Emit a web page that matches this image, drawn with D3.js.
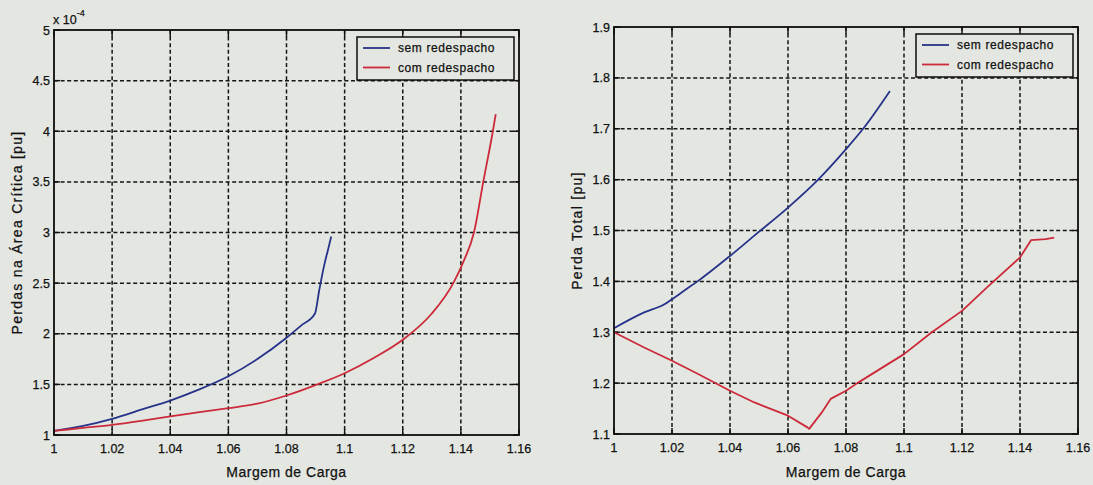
<!DOCTYPE html>
<html>
<head>
<meta charset="utf-8">
<script src="https://cdn.jsdelivr.net/npm/d3@7"></script>
<style>
  html, body { margin: 0; padding: 0; background: #e4e7e1; }
  svg { display: block; }
  text { font-family: "Liberation Sans", Arial, Helvetica, sans-serif; fill: #111; stroke: #111; stroke-width: 0.25; }
</style>
</head>
<body>
<svg id="chart" width="1093" height="485"></svg>
<script>
// Shared x axis: load margin
const xTicks = [1, 1.02, 1.04, 1.06, 1.08, 1.1, 1.12, 1.14, 1.16];
const xTickLabels = ["1", "1.02", "1.04", "1.06", "1.08", "1.1", "1.12", "1.14", "1.16"];

// Left panel: losses in the critical area (x 10^-4 pu)
const areaTicks = [1, 1.5, 2, 2.5, 3, 3.5, 4, 4.5, 5];
const areaTickLabels = ["1", "1.5", "2", "2.5", "3", "3.5", "4", "4.5", "5"];

const areaSemX = [1.000, 1.010, 1.020, 1.030, 1.040, 1.050, 1.060, 1.070, 1.080, 1.085, 1.0898, 1.0912, 1.0930, 1.0942, 1.0954];
const areaSemY = [1.04, 1.09, 1.16, 1.25, 1.34, 1.45, 1.58, 1.75, 1.96, 2.08, 2.20, 2.42, 2.68, 2.82, 2.96];

const areaComX = [1.000, 1.010, 1.020, 1.030, 1.040, 1.050, 1.060, 1.070, 1.080, 1.0906, 1.100, 1.110, 1.120, 1.130, 1.1374, 1.1410, 1.1445, 1.1477, 1.1510, 1.1520];
const areaComY = [1.04, 1.07, 1.10, 1.14, 1.185, 1.225, 1.265, 1.31, 1.39, 1.50, 1.61, 1.76, 1.94, 2.20, 2.50, 2.72, 3.00, 3.50, 4.00, 4.17];

// Right panel: total losses (pu)
const totalTicks = [1.1, 1.2, 1.3, 1.4, 1.5, 1.6, 1.7, 1.8, 1.9];
const totalTickLabels = ["1.1", "1.2", "1.3", "1.4", "1.5", "1.6", "1.7", "1.8", "1.9"];

const totalSemX = [1.000, 1.0104, 1.0174, 1.020, 1.025, 1.0288, 1.040, 1.0484, 1.060, 1.0704, 1.080, 1.0863, 1.0951];
const totalSemY = [1.308, 1.339, 1.355, 1.365, 1.385, 1.400, 1.450, 1.490, 1.545, 1.600, 1.660, 1.703, 1.774];

const totalComX = [1.000, 1.0104, 1.020, 1.029, 1.040, 1.0484, 1.060, 1.0667, 1.0673, 1.0716, 1.0747, 1.080, 1.0839, 1.100, 1.1096, 1.120, 1.129, 1.140, 1.1438, 1.1488, 1.1518];
const totalComY = [1.300, 1.270, 1.244, 1.218, 1.185, 1.162, 1.136, 1.113, 1.110, 1.142, 1.169, 1.185, 1.200, 1.257, 1.300, 1.342, 1.390, 1.447, 1.481, 1.483, 1.486];

const seriesNames = ["sem redespacho", "com redespacho"];
const seriesColors = ["#27338a", "#cc2a3a"];

const svg = d3.select("#chart");
const bg = "#e4e7e1";

function drawPanel(cfg) {
  const x = d3.scaleLinear().domain([xTicks[0], xTicks[xTicks.length - 1]]).range([cfg.left, cfg.right]);
  const y = d3.scaleLinear().domain([cfg.yTicks[0], cfg.yTicks[cfg.yTicks.length - 1]]).range([cfg.bottom, cfg.top]);
  const g = svg.append("g");

  // dotted grid
  const grid = g.append("g").attr("stroke", "#151515").attr("stroke-width", 1.5)
    .attr("stroke-dasharray", "4,2.6").attr("fill", "none");
  grid.selectAll("line.gx").data(xTicks.slice(1, -1)).join("line")
    .attr("x1", d => x(d)).attr("x2", d => x(d))
    .attr("y1", cfg.top).attr("y2", cfg.bottom);
  grid.selectAll("line.gy").data(cfg.yTicks.slice(1, -1)).join("line")
    .attr("x1", cfg.left).attr("x2", cfg.right)
    .attr("y1", d => y(d)).attr("y2", d => y(d));

  // inward ticks on all four sides
  const ticks = g.append("g").attr("stroke", "#111").attr("stroke-width", 1.4);
  xTicks.forEach(v => {
    ticks.append("line").attr("x1", x(v)).attr("x2", x(v)).attr("y1", cfg.bottom).attr("y2", cfg.bottom - 6);
    ticks.append("line").attr("x1", x(v)).attr("x2", x(v)).attr("y1", cfg.top).attr("y2", cfg.top + 7);
  });
  cfg.yTicks.forEach(v => {
    ticks.append("line").attr("x1", cfg.left).attr("x2", cfg.left + 6).attr("y1", y(v)).attr("y2", y(v));
    ticks.append("line").attr("x1", cfg.right).attr("x2", cfg.right - 6).attr("y1", y(v)).attr("y2", y(v));
  });

  // data lines
  cfg.series.forEach((s, i) => {
    const line = d3.line().x(d => x(d[0])).y(d => y(d[1])).curve(s.curve || d3.curveLinear);
    const pts = s.x.map((v, k) => [v, s.y[k]]);
    g.append("path").datum(pts)
      .attr("d", line)
      .attr("fill", "none")
      .attr("stroke", seriesColors[i])
      .attr("stroke-width", 1.8)
      .attr("stroke-linejoin", "round");
  });

  // axes box
  g.append("rect")
    .attr("x", cfg.left).attr("y", cfg.top)
    .attr("width", cfg.right - cfg.left).attr("height", cfg.bottom - cfg.top)
    .attr("fill", "none").attr("stroke", "#0d0d0d").attr("stroke-width", 1.8);

  // tick labels
  g.append("g").selectAll("text").data(xTicks).join("text")
    .attr("x", d => x(d)).attr("y", cfg.bottom + 18)
    .attr("text-anchor", "middle").attr("font-size", 12.5)
    .text((d, i) => xTickLabels[i]);
  g.append("g").selectAll("text").data(cfg.yTicks).join("text")
    .attr("x", cfg.left - 4).attr("y", d => y(d)).attr("dy", "0.36em")
    .attr("text-anchor", "end").attr("font-size", 12.5)
    .text((d, i) => cfg.yTickLabels[i]);

  // axis titles
  g.append("text")
    .attr("x", (cfg.left + cfg.right) / 2).attr("y", 477)
    .attr("text-anchor", "middle").attr("font-size", 14).attr("letter-spacing", 0.5)
    .text("Margem de Carga");
  g.append("text")
    .attr("transform", `translate(${cfg.left - 32},${(cfg.top + cfg.bottom) / 2}) rotate(-90)`)
    .attr("text-anchor", "middle").attr("font-size", 14).attr("letter-spacing", 1.3)
    .text(cfg.yTitle);

  if (cfg.exponent) {
    const t = g.append("text").attr("x", cfg.left - 1).attr("y", cfg.top - 6).attr("font-size", 12.5);
    t.append("tspan").text("x 10");
    t.append("tspan").attr("dy", -8).attr("font-size", 9).text(cfg.exponent);
  }

  // legend
  const lx = cfg.right - 162, ly = cfg.top + 7, lw = 157, lh = 43;
  const leg = g.append("g");
  leg.append("rect").attr("x", lx).attr("y", ly).attr("width", lw).attr("height", lh)
    .attr("fill", bg).attr("stroke", "#0d0d0d").attr("stroke-width", 1.5);
  seriesNames.forEach((name, i) => {
    const ry = ly + 11 + i * 19.5;
    leg.append("line").attr("x1", lx + 6).attr("x2", lx + 33).attr("y1", ry).attr("y2", ry)
      .attr("stroke", seriesColors[i]).attr("stroke-width", 1.8);
    leg.append("text").attr("x", lx + 41).attr("y", ry).attr("dy", "0.35em")
      .attr("font-size", 12).attr("letter-spacing", 0.6).text(name);
  });
}

drawPanel({
  left: 54, right: 519, top: 30, bottom: 435,
  yTicks: areaTicks, yTickLabels: areaTickLabels,
  yTitle: "Perdas na Área Crítica [pu]",
  exponent: "-4",
  series: [
    { x: areaSemX, y: areaSemY, curve: d3.curveMonotoneX },
    { x: areaComX, y: areaComY, curve: d3.curveMonotoneX }
  ]
});

drawPanel({
  left: 614, right: 1078, top: 27, bottom: 434,
  yTicks: totalTicks, yTickLabels: totalTickLabels,
  yTitle: "Perda Total [pu]",
  exponent: null,
  series: [
    { x: totalSemX, y: totalSemY, curve: d3.curveMonotoneX },
    { x: totalComX, y: totalComY }
  ]
});
</script>
</body>
</html>
